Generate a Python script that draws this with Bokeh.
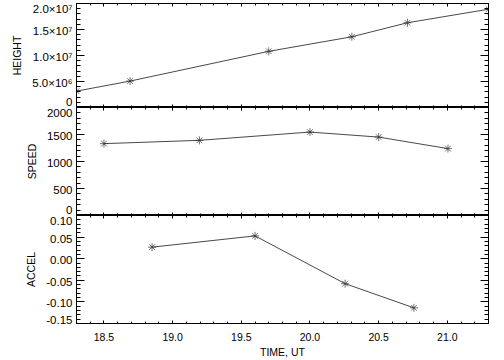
from bokeh.plotting import figure
from bokeh.layouts import column
from bokeh.models import Range1d, FixedTicker, LinearAxis
from bokeh.embed import file_html
from bokeh.resources import INLINE
import numpy as np

# ---- data ----
time_h = [18.30, 18.69, 19.70, 20.305, 20.71, 21.30]
height = [3.15e6, 5.08e6, 10.8e6, 13.6e6, 16.3e6, 18.9e6]
time_v = [18.50, 19.195, 20.00, 20.50, 21.005]
speed = [1331, 1392, 1545, 1452, 1239]
time_a = [18.85, 19.60, 20.256, 20.757]
accel = [0.0267, 0.0528, -0.0578, -0.1138]

x_ticks = [18.5, 19.0, 19.5, 20.0, 20.5, 21.0]
x_labels = ["18.5", "19.0", "19.5", "20.0", "20.5", "21.0"]
h_ticks = [0, 5e6, 1e7, 1.5e7, 2e7]
h_labels = ["0", "5.0×10⁶", "1.0×10⁷", "1.5×10⁷", "2.0×10⁷"]
v_ticks = [0, 500, 1000, 1500, 2000]
v_labels = ["0", "500", "1000", "1500", "2000"]
a_ticks = [-0.15, -0.10, -0.05, 0.00, 0.05, 0.10]
a_labels = ["-0.15", "-0.10", "-0.05", "0.00", "0.05", "0.10"]

FONT = "Liberation Sans"
YTICK_FS = "11.5px"
XTICK_FS = "10.5px"
TITLE_FS = "10.5px"
LEFT, FRAME_W, RIGHT = 76, 412, 8
INK = "#333333"

x_range = Range1d(18.3, 21.3)
x_minor = list(np.round(np.arange(18.3, 21.31, 0.1), 3))


def base_axis(ax):
    ax.axis_line_color = "black"
    ax.major_tick_line_color = "black"
    ax.minor_tick_line_color = "black"
    ax.major_tick_out = 0
    ax.minor_tick_out = 0
    ax.major_label_text_font = FONT
    ax.major_label_text_color = "black"
    ax.axis_label_text_font = FONT
    ax.axis_label_text_font_style = "normal"
    ax.axis_label_text_font_size = TITLE_FS
    ax.axis_label_text_color = "black"


def tick_only_axis(ticker, ticks, tin, tmin):
    ax = LinearAxis(ticker=ticker)
    base_axis(ax)
    ax.major_tick_in = tin
    ax.minor_tick_in = tmin
    ax.major_label_overrides = {t: "" for t in ticks}
    ax.major_label_text_font_size = "0px"
    ax.major_label_standoff = 0
    return ax


def panel(ys, xs, y0, y1, yt, ylab, minor_step, title, top_b, frame_h, bottom_b,
          show_x, top_nudge, bot_nudge):
    p = figure(width=LEFT + FRAME_W + RIGHT, height=top_b + frame_h + bottom_b,
               x_range=x_range, y_range=Range1d(y0, y1),
               output_backend="svg", toolbar_location=None,
               x_axis_location=None, y_axis_location=None,
               min_border_left=LEFT, min_border_right=RIGHT,
               min_border_top=top_b, min_border_bottom=bottom_b)
    p.background_fill_color = "white"
    p.border_fill_color = "white"
    p.outline_line_color = "black"
    p.xgrid.visible = False
    p.ygrid.visible = False

    n = int(round((y1 - y0) / minor_step))
    y_minor = [y0 + i * minor_step for i in range(n + 1)]
    yticker = FixedTicker(ticks=yt, minor_ticks=y_minor)
    xticker = FixedTicker(ticks=x_ticks, minor_ticks=x_minor)

    # left: tick marks (inward) on the frame edge
    p.add_layout(tick_only_axis(yticker, yt, 8, 4), "left")

    # left: labels, end labels nudged inward like the original
    per_px = (y1 - y0) / frame_h
    pos, over = [], {}
    for t, l in zip(yt, ylab):
        if t == y1:
            nudge = top_nudge
        elif t == y0:
            nudge = -bot_nudge
        else:
            nudge = 1.5
        yp = round(t - nudge * per_px, 9)
        pos.append(yp)
        over[yp] = l
    lab = LinearAxis(ticker=FixedTicker(ticks=pos, minor_ticks=[]), axis_label=title)
    base_axis(lab)
    lab.axis_line_color = None
    lab.major_tick_line_color = None
    lab.minor_tick_line_color = None
    lab.major_tick_in = 0
    lab.minor_tick_in = 0
    lab.major_label_text_font_size = YTICK_FS
    lab.major_label_standoff = 4
    lab.axis_label_standoff = 6
    lab.major_label_overrides = over
    p.add_layout(lab, "left")

    p.add_layout(tick_only_axis(yticker, yt, 8, 4), "right")
    p.add_layout(tick_only_axis(xticker, x_ticks, 3, 2), "above")

    if show_x:
        below = LinearAxis(ticker=xticker, axis_label="TIME, UT")
        base_axis(below)
        below.major_tick_in = 3
        below.minor_tick_in = 2
        below.major_label_text_font_size = XTICK_FS
        below.major_label_standoff = 9
        below.axis_label_standoff = 2
        below.major_label_overrides = dict(zip(x_ticks, x_labels))
    else:
        below = tick_only_axis(xticker, x_ticks, 3, 2)
    p.add_layout(below, "below")

    p.line(xs, ys, line_color=INK, line_width=0.9)
    p.scatter(xs, ys, marker="asterisk", size=8, line_color=INK, line_width=0.7)
    return p


p1 = panel(height, time_h, 0, 2e7, h_ticks, h_labels, 1e6, "HEIGHT", 3, 104, 0, False, 5.5, 3.5)
p2 = panel(speed, time_v, 0, 2000, v_ticks, v_labels, 100, "SPEED", 0, 108, 0, False, 5.5, 6.0)
p3 = panel(accel, time_a, -0.15, 0.10, a_ticks, a_labels, 0.01, "ACCEL", 0, 109, 36, True, 5.5, 3.5)

layout = column(p1, p2, p3, spacing=0)

open("out.html", "w").write(file_html(layout, INLINE))
